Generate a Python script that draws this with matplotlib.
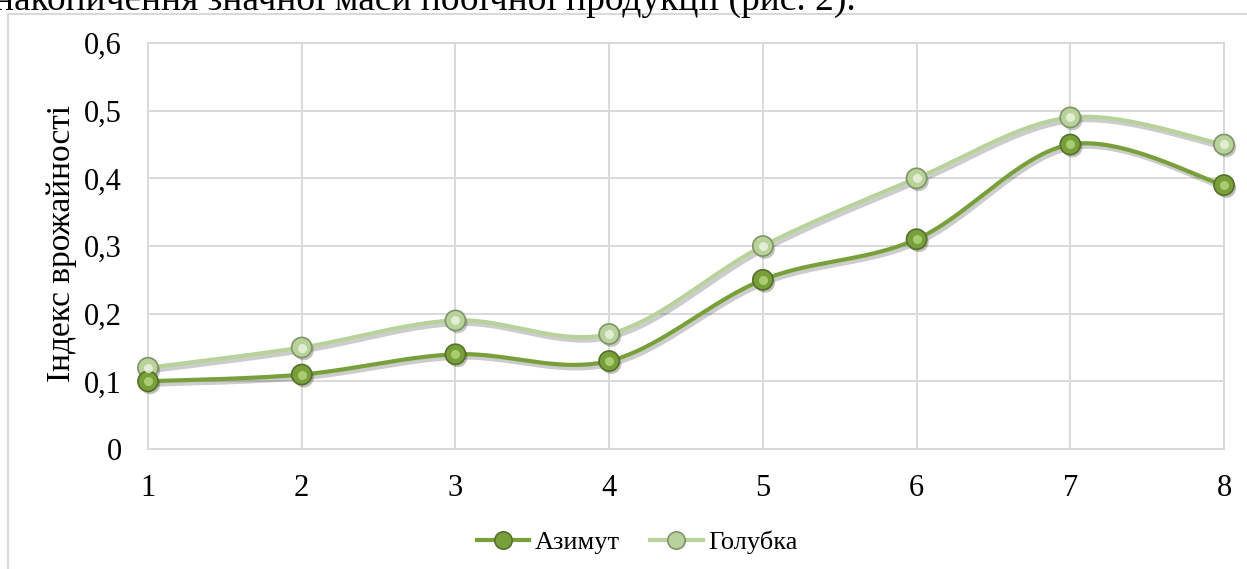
################################################################################
# Line chart: yield index of two varieties (smoothed lines, sphere markers)
################################################################################
import numpy as np
import matplotlib.pyplot as plt
import matplotlib as mpl
import matplotlib.patheffects as pe

# %%
# Data
categories = [1, 2, 3, 4, 5, 6, 7, 8]
azimut = [0.10, 0.11, 0.14, 0.13, 0.25, 0.31, 0.45, 0.39]
golubka = [0.12, 0.15, 0.19, 0.17, 0.30, 0.40, 0.49, 0.45]
yticks = [0, 0.1, 0.2, 0.3, 0.4, 0.5, 0.6]
ytick_labels = ['0', '0,1', '0,2', '0,3', '0,4', '0,5', '0,6']
series_names = ['Азимут', 'Голубка']
ylabel = 'Індекс врожайності'
top_text = 'накопичення значної маси побічної продукції (рис. 2).'


def smooth(x, y, n=40):
    # Excel-like smoothed line: cubic Bezier with Catmull-Rom control points
    x = np.asarray(x, float)
    y = np.asarray(y, float)
    p = np.column_stack([x, y])
    out = []
    for i in range(len(p) - 1):
        p0 = p[i - 1] if i > 0 else p[i]
        p3 = p[i + 2] if i + 2 < len(p) else p[i + 1]
        c1 = p[i] + (p[i + 1] - p0) / 6.0
        c2 = p[i + 1] - (p3 - p[i]) / 6.0
        t = np.linspace(0, 1, n)[:, None]
        seg = ((1 - t) ** 3 * p[i] + 3 * (1 - t) ** 2 * t * c1
               + 3 * (1 - t) * t ** 2 * c2 + t ** 3 * p[i + 1])
        out.append(seg if i == 0 else seg[1:])
    out = np.vstack(out)
    return out[:, 0], out[:, 1]


################################################################################
# %%
plt.rc('font', family='serif')
plt.rc('font', serif=['Liberation Serif', 'DejaVu Serif'])

colors = ['#77a03a', '#b7d29b']
edges = ['#556f2c', '#7f9366']
lights = ['#b3d57e', '#eaf3df']

fsize = 22
W, H = 1247, 569
fig = plt.figure(figsize=(W / 100, H / 100), dpi=100)

# chart frame (top and left border) and cut text above it
fig.add_artist(plt.Line2D([8 / W, 1], [1 - 14 / H, 1 - 14 / H], color='#d9d9d9', lw=1.5))
fig.add_artist(plt.Line2D([8 / W, 8 / W], [0, 1 - 14 / H], color='#d9d9d9', lw=1.5))
fig.text(-6 / W, 1 - 10 / H, top_text, fontsize=27, ha='left', va='baseline')

ax = fig.add_axes([148 / W, 1 - 449 / H, (1224 - 148) / W, (449 - 43) / H])
ax.set_xlim(1, 8)
ax.set_ylim(0, 0.6)
ax.set_xticks(categories)
ax.set_yticks(yticks)
ax.set_yticklabels(ytick_labels)
ax.grid(True, color='#d9d9d9', linewidth=1.4)
ax.set_axisbelow(True)
for s in ax.spines.values():
    s.set_color('#d9d9d9')
    s.set_linewidth(1.4)
ax.tick_params(axis='both', length=0, labelsize=fsize)
ax.tick_params(axis='y', pad=19)
ax.tick_params(axis='x', pad=18)
fig.text(62 / W, 1 - 244 / H, ylabel, fontsize=24, rotation=90, ha='center', va='center')

shadow = [pe.SimpleLineShadow(offset=(1.5, -2.5), alpha=0.2, shadow_color='k'), pe.Normal()]
handles = []
for vals, name, c, ec, lc in zip([golubka, azimut], series_names[::-1], colors[::-1], edges[::-1], lights[::-1]):
    xs, ys = smooth(categories, vals)
    ax.plot(xs, ys, color=c, linewidth=3, path_effects=shadow, zorder=3, clip_on=False)
    ax.plot(categories, vals, 'o', markersize=14.5, markerfacecolor=c, markeredgecolor=ec,
            markeredgewidth=1.2, zorder=4, clip_on=False,
            path_effects=[pe.SimplePatchShadow(offset=(1.5, -2), alpha=0.3), pe.Normal()])
    ax.plot(categories, vals, 'o', markersize=6.5, markerfacecolor=lc, markeredgecolor='none',
            alpha=0.85, zorder=5, clip_on=False)
    h, = ax.plot([], [], '-o', color=c, linewidth=3, markersize=12.5,
                 markerfacecolor=c, markeredgecolor=ec, markeredgewidth=1.2)
    handles.append((h, name))

handles = handles[::-1]
fig.legend([h for h, n in handles], [n for h, n in handles], loc='center',
           bbox_to_anchor=(637 / W, 1 - 542 / H), ncol=2, frameon=False,
           fontsize=19, handlelength=2.0, handletextpad=0.2, columnspacing=1.15,
           borderpad=0, borderaxespad=0)

plt.savefig('out.png', dpi=100)
plt.close()
